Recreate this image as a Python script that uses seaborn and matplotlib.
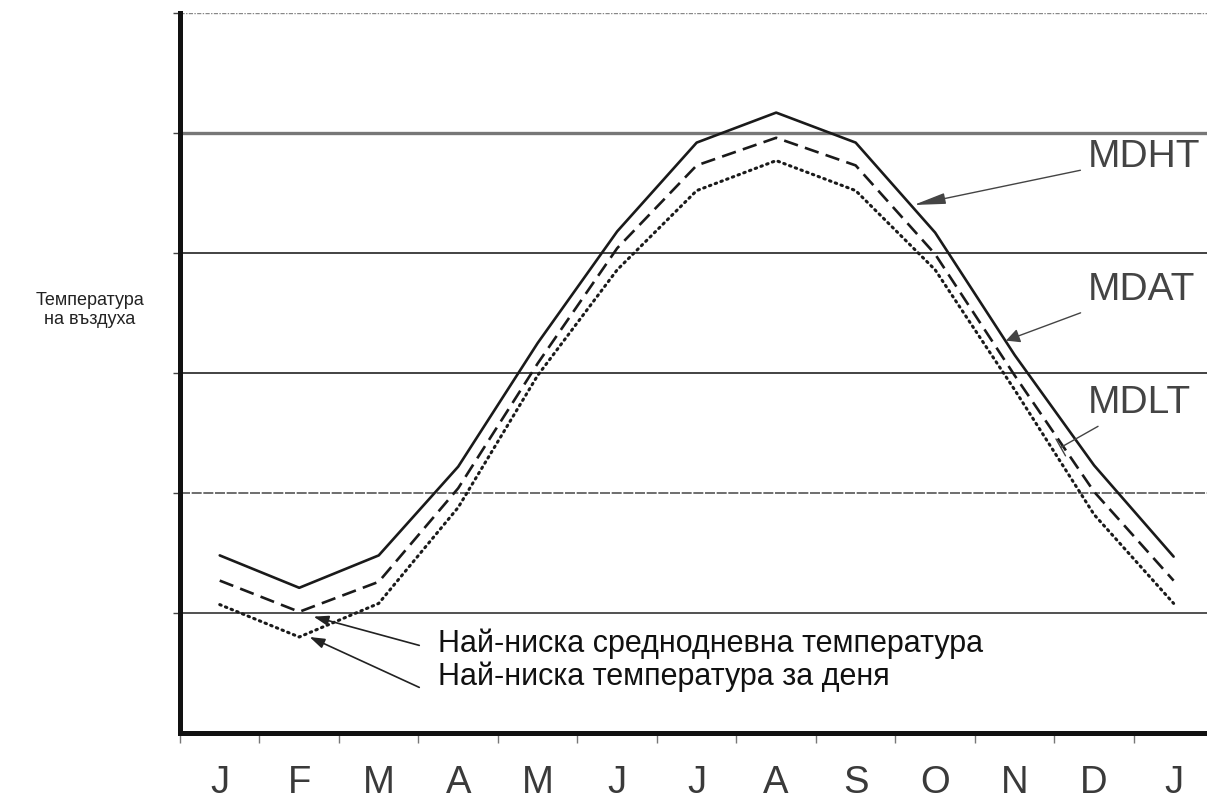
import numpy as np
import pandas as pd
import matplotlib
matplotlib.use("Agg")
import matplotlib.pyplot as plt
import seaborn as sns

# месеци (от януари до януари на следващата година)
months = ["J", "F", "M", "A", "M", "J", "J", "A", "S", "O", "N", "D", "J"]
month_idx = list(range(len(months)))

# средни дневни температури (относителни единици, отчетени от графиката)
mdht = [1.48, 1.21, 1.48, 2.22, 3.25, 4.18, 4.92, 5.17, 4.92, 4.17, 3.15, 2.23, 1.47]
mdat = [1.27, 1.01, 1.26, 2.04, 3.08, 4.04, 4.73, 4.96, 4.73, 3.99, 2.98, 2.01, 1.27]
mdlt = [1.07, 0.80, 1.08, 1.88, 2.98, 3.86, 4.52, 4.77, 4.52, 3.86, 2.86, 1.82, 1.08]

series_names = ["MDHT", "MDAT", "MDLT"]
grid_levels = [1, 2, 3, 4, 5, 6]

df = pd.DataFrame({
    "month": month_idx * 3,
    "temp": mdht + mdat + mdlt,
    "series": sum([[s] * len(months) for s in series_names], []),
})

sns.set_style("white")
plt.rcParams["font.family"] = ["Liberation Sans", "DejaVu Sans"]

fig = plt.figure(figsize=(12.07, 7.99), dpi=100)
ax = fig.add_axes([180 / 1207, 1 - 733 / 799, 1 - 180 / 1207, (733 - 13) / 799])

# хоризонтални линии
grid_styles = {
    1: dict(color="#333333", lw=1.2, ls="-"),
    2: dict(color="#555555", lw=1.2, ls=(0, (6, 1))),
    3: dict(color="#222222", lw=1.2, ls="-"),
    4: dict(color="#222222", lw=1.2, ls="-"),
    5: dict(color="#777777", lw=2.4, ls="-"),
    6: dict(color="#888888", lw=1.0, ls=(0, (3, 1, 1, 1))),
}
for lev in grid_levels:
    ax.axhline(lev, zorder=1, **grid_styles[lev])

line_styles = {
    "MDHT": ("-", 1.9, "butt"),
    "MDAT": ((0, (5.5, 2.8)), 1.9, "butt"),
    "MDLT": ((0, (0.5, 1.5)), 2.2, "round"),
}
for s in series_names:
    ls, lw, cap = line_styles[s]
    sns.lineplot(data=df[df["series"] == s], x="month", y="temp", ax=ax,
                 color="#1a1a1a", lw=lw, linestyle=ls, dash_capstyle=cap, zorder=3)

ax.set_xlim(-0.477, 12.42)
ax.set_ylim(0, 6)
ax.set_xlabel("")
ax.set_ylabel("")

ax.set_xticks(month_idx)
ax.set_xticklabels(months, fontsize=27.5, color="#3a3a3a")
ax.set_xticks(np.arange(-0.5, 12, 1), minor=True)
ax.tick_params(axis="x", which="major", length=0, pad=23)
ax.tick_params(axis="x", which="minor", bottom=True, length=7, width=1,
               color="#777777", direction="out")
ax.set_yticks(grid_levels)
ax.set_yticklabels([])
ax.tick_params(axis="y", left=True, length=5, width=1, color="#444444", direction="out")

for side in ["top", "right"]:
    ax.spines[side].set_visible(False)
for side in ["left", "bottom"]:
    ax.spines[side].set_linewidth(3.6)
    ax.spines[side].set_color("#111111")

# етикети на кривите
lab_kw = dict(fontsize=28, color="#444444", ha="left", va="center")
ax.annotate("MDHT", xy=(8.73, 4.40), xytext=(10.92, 4.80),
            arrowprops=dict(arrowstyle="-|>,head_length=0.7,head_width=0.12", color="#444444", lw=1.0,
                            shrinkA=3, shrinkB=0), **lab_kw)
ax.annotate("MDAT", xy=(9.89, 3.27), xytext=(10.92, 3.69),
            arrowprops=dict(arrowstyle="-|>,head_length=0.3,head_width=0.15", color="#444444", lw=1.0,
                            shrinkA=3, shrinkB=0), **lab_kw)
ax.annotate("MDLT", xy=(10.58, 2.38), xytext=(10.92, 2.75),
            arrowprops=dict(arrowstyle="-[,widthB=0.25,lengthB=0", color="#444444", lw=1.0,
                            shrinkA=3, shrinkB=0), **lab_kw)

# долни надписи
ax.text(2.75, 0.74, "Най-ниска среднодневна температура", fontsize=22, color="#111111",
        ha="left", va="center")
ax.text(2.75, 0.465, "Най-ниска температура за деня", fontsize=22, color="#111111",
        ha="left", va="center")
arr = dict(arrowstyle="-|>,head_length=0.9,head_width=0.3", color="#222222", lw=1.2,
           shrinkA=0, shrinkB=0)
ax.annotate("", xy=(1.18, 0.97), xytext=(2.51, 0.73), arrowprops=arr)
ax.annotate("", xy=(1.13, 0.80), xytext=(2.51, 0.38), arrowprops=arr)

fig.text(90 / 1207, 1 - 310 / 799, "Температура\nна въздуха", fontsize=13,
         color="#222222", ha="center", va="center")

fig.savefig("out.png", dpi=100, facecolor="white")
